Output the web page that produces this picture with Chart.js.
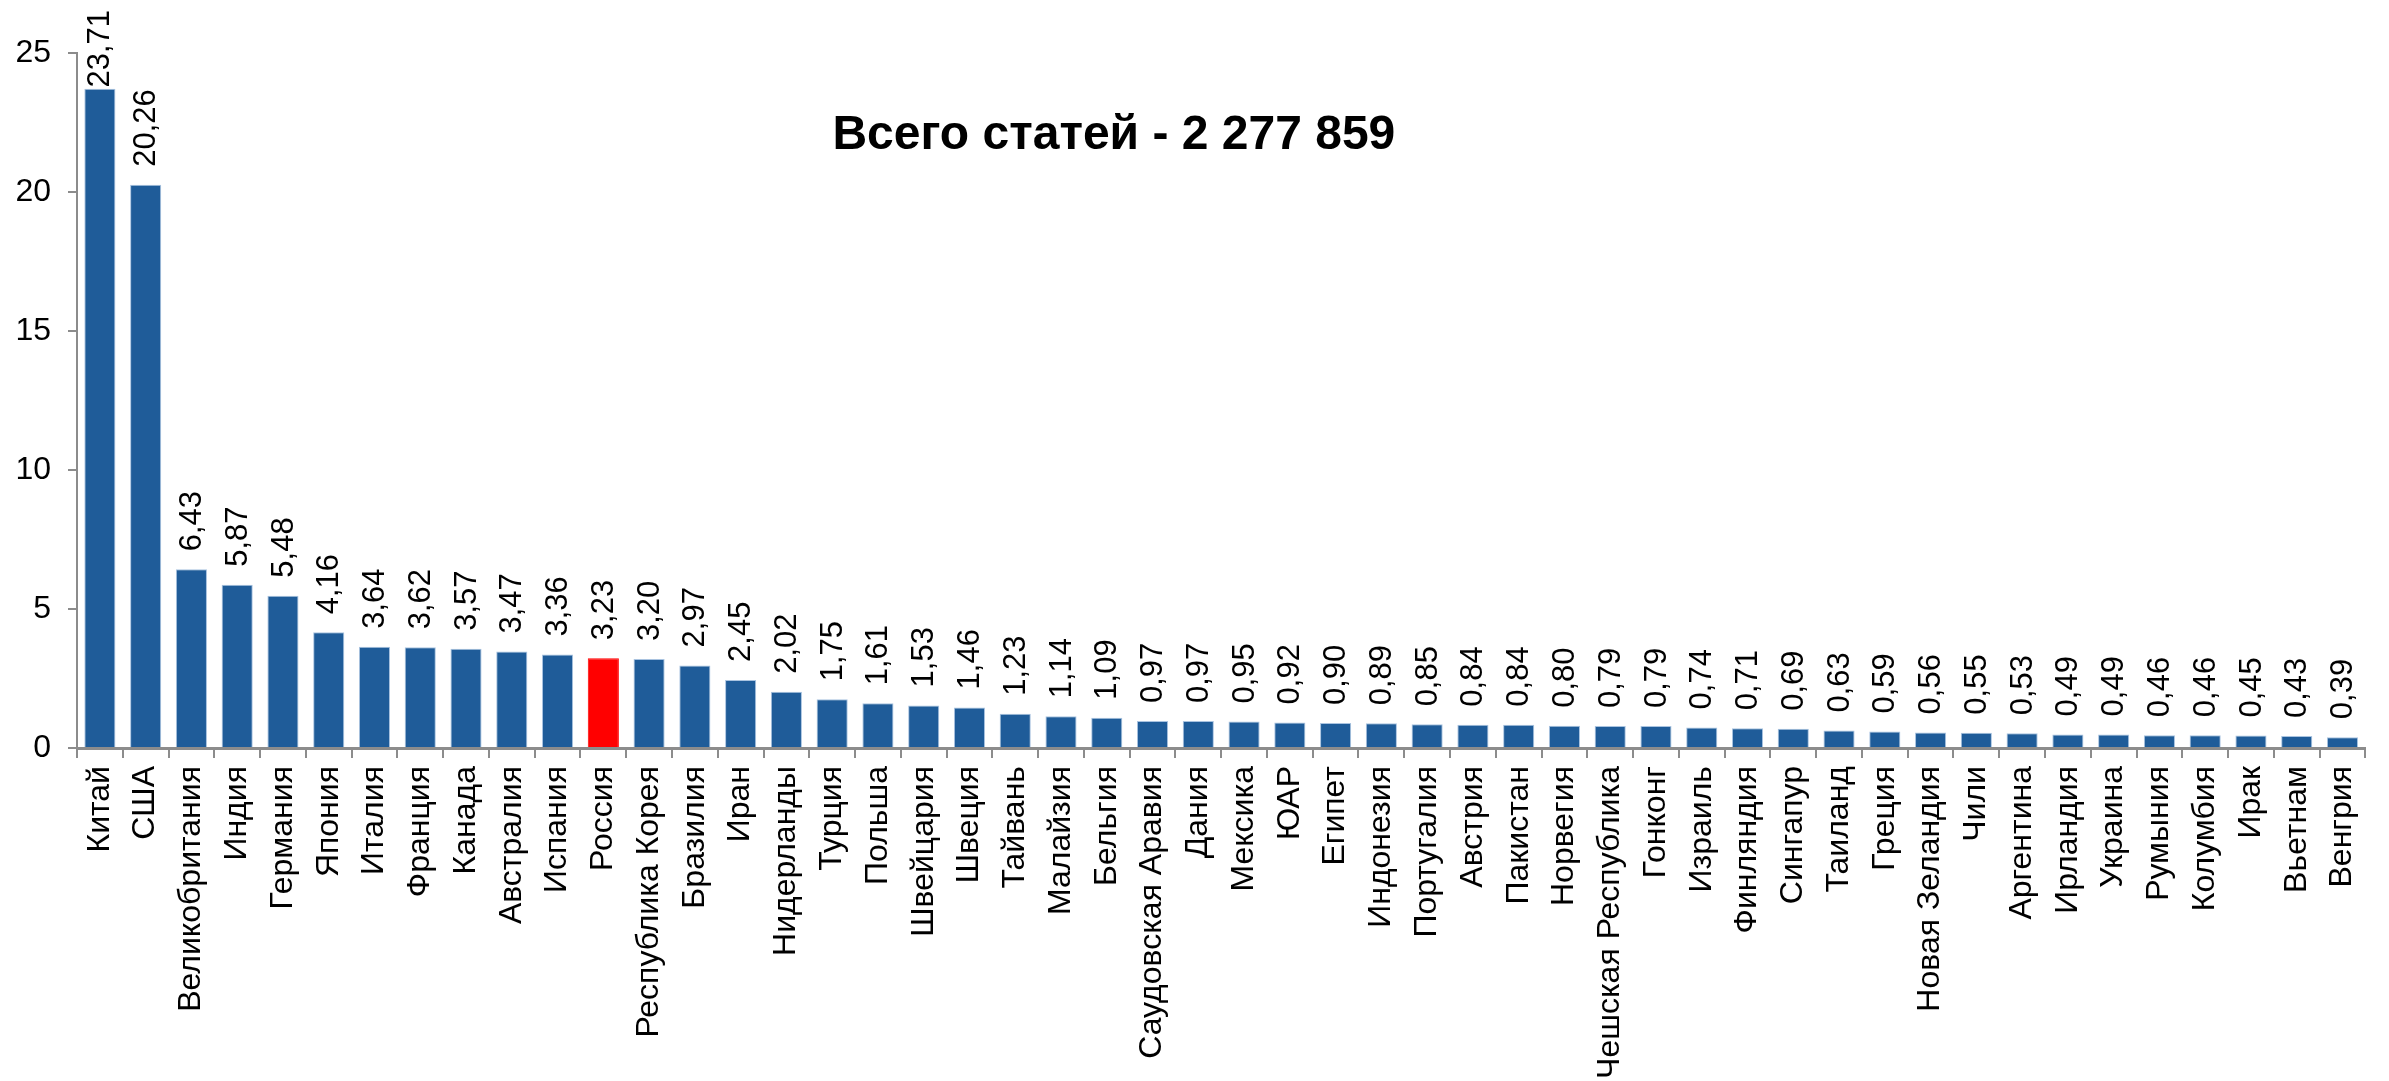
<!DOCTYPE html>
<html lang="ru">
<head>
<meta charset="utf-8">
<title>Всего статей - 2 277 859</title>
<script src="https://cdn.jsdelivr.net/npm/chart.js@4.4.1/dist/chart.umd.min.js"></script>
<style>
  html, body { margin: 0; padding: 0; background: #fff; }
  canvas { display: block; }
</style>
</head>
<body>
<canvas id="chart" width="2389" height="1081"></canvas>
<script>
// Countries (share of all articles, %)
const countries = [
  'Китай', 'США', 'Великобритания', 'Индия', 'Германия', 'Япония', 'Италия',
  'Франция', 'Канада', 'Австралия', 'Испания', 'Россия', 'Республика Корея',
  'Бразилия', 'Иран', 'Нидерланды', 'Турция', 'Польша', 'Швейцария', 'Швеция',
  'Тайвань', 'Малайзия', 'Бельгия', 'Саудовская Аравия', 'Дания', 'Мексика',
  'ЮАР', 'Египет', 'Индонезия', 'Португалия', 'Австрия', 'Пакистан', 'Норвегия',
  'Чешская Республика', 'Гонконг', 'Израиль', 'Финляндия', 'Сингапур', 'Таиланд',
  'Греция', 'Новая Зеландия', 'Чили', 'Аргентина', 'Ирландия', 'Украина',
  'Румыния', 'Колумбия', 'Ирак', 'Вьетнам', 'Венгрия'
];

const shares = [
  23.71, 20.26, 6.43, 5.87, 5.48, 4.16, 3.64,
  3.62, 3.57, 3.47, 3.36, 3.23, 3.20,
  2.97, 2.45, 2.02, 1.75, 1.61, 1.53, 1.46,
  1.23, 1.14, 1.09, 0.97, 0.97, 0.95,
  0.92, 0.90, 0.89, 0.85, 0.84, 0.84, 0.80,
  0.79, 0.79, 0.74, 0.71, 0.69, 0.63,
  0.59, 0.56, 0.55, 0.53, 0.49, 0.49,
  0.46, 0.46, 0.45, 0.43, 0.39
];

const yTicks = [0, 5, 10, 15, 20, 25];
const highlighted = 'Россия';
const titleText = 'Всего статей - 2 277 859';

const FONT = "'Liberation Sans', Arial, sans-serif";
const BLUE = '#1f5c99';
const RED = '#ff0000';
const AXIS = '#8c8c8c';

const fillColors = countries.map(c => c === highlighted ? RED : BLUE);
const edgeColors = countries.map(c => c === highlighted ? RED : '#a9c3e0');

const fmt = v => v.toFixed(2).replace('.', ',');

// Rotated value labels above each bar, kept inside the canvas top
const valueLabels = {
  id: 'valueLabels',
  afterDatasetsDraw(chart) {
    const ctx = chart.ctx;
    const meta = chart.getDatasetMeta(0);
    ctx.save();
    ctx.fillStyle = '#000';
    ctx.font = '31px ' + FONT;
    ctx.textAlign = 'left';
    ctx.textBaseline = 'middle';
    meta.data.forEach((bar, i) => {
      const text = fmt(shares[i]);
      const len = ctx.measureText(text).width;
      const start = Math.max(bar.y - 18, 10 + len);
      ctx.save();
      ctx.translate(bar.x + 1, start);
      ctx.rotate(-Math.PI / 2);
      ctx.fillText(text, 0, 0);
      ctx.restore();
    });
    ctx.restore();
  }
};

// Heading inside the plot area
const heading = {
  id: 'heading',
  afterDraw(chart) {
    const { ctx, chartArea } = chart;
    ctx.save();
    ctx.fillStyle = '#000';
    ctx.font = 'bold 48px ' + FONT;
    ctx.textAlign = 'center';
    ctx.textBaseline = 'middle';
    const x = chartArea.left + (chartArea.right - chartArea.left) * 0.4531;
    ctx.fillText(titleText, x, 136);
    ctx.restore();
  }
};

new Chart(document.getElementById('chart'), {
  type: 'bar',
  data: {
    labels: countries,
    datasets: [{
      data: shares,
      backgroundColor: fillColors,
      borderColor: edgeColors,
      borderWidth: 1,
      barPercentage: 0.68,
      categoryPercentage: 1.0
    }]
  },
  options: {
    responsive: false,
    animation: false,
    devicePixelRatio: 1,
    layout: { padding: { top: 53, right: 11, left: 0, bottom: 0 } },
    plugins: {
      legend: { display: false },
      title: { display: false },
      tooltip: { enabled: false }
    },
    scales: {
      x: {
        grid: {
          display: true,
          drawOnChartArea: false,
          drawTicks: true,
          tickLength: 10,
          color: AXIS,
          lineWidth: 2,
          offset: true
        },
        border: { display: true, color: AXIS, width: 3 },
        ticks: {
          autoSkip: false,
          maxRotation: 90,
          minRotation: 90,
          padding: 8,
          color: '#000',
          font: { size: 32, family: FONT }
        },
        afterFit(scale) { scale.height = 333; }
      },
      y: {
        min: yTicks[0],
        max: yTicks[yTicks.length - 1],
        afterBuildTicks(scale) { scale.ticks = yTicks.map(v => ({ value: v })); },
        grid: {
          display: true,
          drawOnChartArea: false,
          drawTicks: true,
          tickLength: 9,
          color: AXIS,
          lineWidth: 2
        },
        border: { display: true, color: AXIS, width: 2 },
        ticks: {
          padding: 17,
          color: '#000',
          font: { size: 32, family: FONT }
        },
        afterFit(scale) { scale.width = 77; }
      }
    }
  },
  plugins: [valueLabels, heading]
});
</script>
</body>
</html>
